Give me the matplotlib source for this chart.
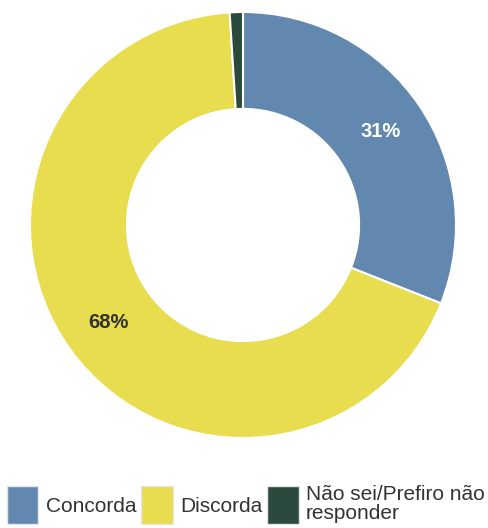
import matplotlib
matplotlib.use("Agg")
import matplotlib.pyplot as plt
from matplotlib.patches import Patch

# dados
categorias = ["Concorda", "Discorda", "Não sei/Prefiro não\nresponder"]
valores = [31, 68, 1]
cores = ["#6388b0", "#e8dc4f", "#2b4a3d"]
cores_texto = ["white", "#333333", "white"]

plt.rcParams['font.family'] = ['Liberation Sans', 'DejaVu Sans']

fig = plt.figure(figsize=(4.88, 5.28), dpi=100)
ax = fig.add_axes([30 / 488, 90 / 528, 426 / 488, 426 / 528])

wedges, texts, autotexts = ax.pie(
    valores, colors=cores, startangle=90, counterclock=False,
    radius=1, autopct=lambda p: f"{p:.0f}%" if p >= 5 else "",
    pctdistance=0.78,
    wedgeprops=dict(width=0.455, edgecolor="white", linewidth=1.5),
    textprops=dict(fontsize=14.5, fontweight="bold"))
for t, c in zip(autotexts, cores_texto):
    t.set_color(c)
ax.set_xlim(-1, 1)
ax.set_ylim(-1, 1)
ax.set_aspect("equal")
ax.axis("off")

handles = [Patch(facecolor=c, edgecolor="#e6e6e6", linewidth=1) for c in cores]
leg = fig.legend(handles, categorias, loc="lower left", ncol=3,
                 bbox_to_anchor=(7 / 488, 4 / 528), frameon=False,
                 fontsize=15, handlelength=1.5, handleheight=2.4,
                 handletextpad=0.35, columnspacing=0.25, borderpad=0,
                 borderaxespad=0, labelspacing=0)
for t in leg.get_texts():
    t.set_color("#333333")
    t.set_linespacing(1.05)

fig.savefig("out.png", dpi=100)
